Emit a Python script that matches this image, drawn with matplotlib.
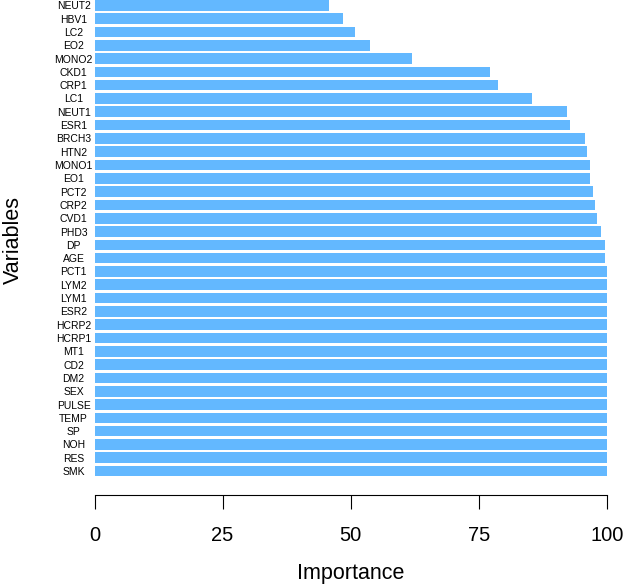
import matplotlib
matplotlib.use("Agg")
import matplotlib.pyplot as plt
import numpy as np

plt.rcParams['font.family'] = ['Liberation Sans', 'DejaVu Sans']

# variables from top to bottom as shown in the chart
variables = ["NEUT2", "HBV1", "LC2", "EO2", "MONO2", "CKD1", "CRP1", "LC1",
             "NEUT1", "ESR1", "BRCH3", "HTN2", "MONO1", "EO1", "PCT2", "CRP2",
             "CVD1", "PHD3", "DP", "AGE", "PCT1", "LYM2", "LYM1", "ESR2",
             "HCRP2", "HCRP1", "MT1", "CD2", "DM2", "SEX", "PULSE", "TEMP",
             "SP", "NOH", "RES", "SMK"]
importance = [45.8, 48.5, 50.9, 53.7, 61.9, 77.1, 78.7, 85.4,
              92.1, 92.7, 95.7, 96.0, 96.6, 96.6, 97.3, 97.6,
              98.1, 98.8, 99.7, 99.7, 100, 100, 100, 100,
              100, 100, 100, 100, 100, 100, 100, 100,
              100, 100, 100, 100]
xticks = [0, 25, 50, 75, 100]

W, H = 625, 585
fig = plt.figure(figsize=(W / 100, H / 100), dpi=100)
ax = fig.add_axes([94.5 / W, 1 - 495 / H, (607 - 94.5) / W, 495 / H])

n = len(variables)
pos = np.arange(n)[::-1]  # first variable at top
ax.barh(pos, importance, height=0.8, color="#63B8FF", edgecolor="none")

ax.set_xlim(0, 100)
ax.set_ylim(-1.80, n - 1 + 0.40)

ax.set_yticks(pos)
ax.set_yticklabels(variables, fontsize=7.5)
for lab in ax.get_yticklabels():
    lab.set_ha("center")
ax.tick_params(axis="y", length=0, pad=15)

ax.set_xticks(xticks)
ax.set_xticklabels([str(t) for t in xticks], fontsize=14.5)
ax.tick_params(axis="x", length=10, width=0.8, pad=12.5, color="black")

for s in ["top", "right", "left"]:
    ax.spines[s].set_visible(False)
ax.spines["bottom"].set_linewidth(0.8)
ax.spines["bottom"].set_bounds(0, 100)

ax.set_xlabel("Importance", fontsize=15.5, labelpad=13)
ax.set_ylabel("Variables", fontsize=15.5)
ax.yaxis.set_label_coords(-0.138, 0.516)

fig.savefig("out.png", dpi=100)
